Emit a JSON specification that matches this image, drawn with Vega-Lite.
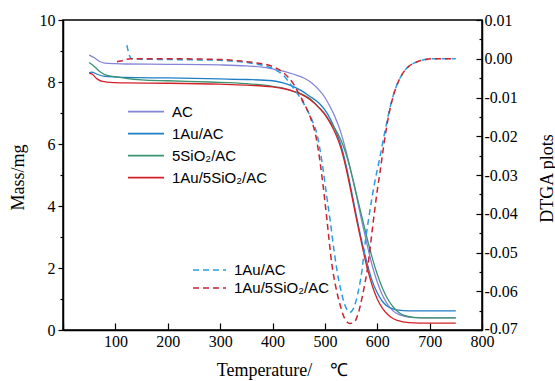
{
  "$schema": "https://vega.github.io/schema/vega-lite/v6.json",
  "width": 419,
  "height": 310,
  "autosize": "none",
  "padding": {"left": 63, "top": 20, "right": 73, "bottom": 51},
  "background": "white",
  "config": {
    "view": {"stroke": "black", "strokeWidth": 1.5},
    "axis": {
      "domainColor": "black",
      "domainWidth": 1.5,
      "tickColor": "black",
      "tickWidth": 1.2,
      "grid": false,
      "labelFont": "Liberation Serif",
      "labelFontSize": 16,
      "labelColor": "black",
      "titleFont": "Liberation Serif",
      "titleFontSize": 18,
      "titleFontWeight": "normal",
      "titleColor": "black"
    },
    "legend": {
      "labelFont": "Liberation Sans",
      "labelFontSize": 15,
      "labelColor": "black",
      "symbolType": "stroke",
      "padding": 0
    }
  },
  "datasets": {
    "tga": [
      {"s": "AC", "T": 50, "m": 8.87}, {"s": "AC", "T": 60, "m": 8.78}, {"s": "AC", "T": 70, "m": 8.66}, {"s": "AC", "T": 80, "m": 8.61},
      {"s": "AC", "T": 100, "m": 8.59}, {"s": "AC", "T": 120, "m": 8.58}, {"s": "AC", "T": 200, "m": 8.57}, {"s": "AC", "T": 300, "m": 8.55},
      {"s": "AC", "T": 350, "m": 8.52}, {"s": "AC", "T": 380, "m": 8.48}, {"s": "AC", "T": 400, "m": 8.42}, {"s": "AC", "T": 420, "m": 8.35},
      {"s": "AC", "T": 440, "m": 8.25}, {"s": "AC", "T": 460, "m": 8.13}, {"s": "AC", "T": 475, "m": 7.97}, {"s": "AC", "T": 490, "m": 7.72},
      {"s": "AC", "T": 500, "m": 7.5}, {"s": "AC", "T": 510, "m": 7.2}, {"s": "AC", "T": 520, "m": 6.85}, {"s": "AC", "T": 530, "m": 6.4},
      {"s": "AC", "T": 540, "m": 5.8}, {"s": "AC", "T": 550, "m": 5.1}, {"s": "AC", "T": 560, "m": 4.35}, {"s": "AC", "T": 570, "m": 3.55},
      {"s": "AC", "T": 580, "m": 2.8}, {"s": "AC", "T": 590, "m": 2.1}, {"s": "AC", "T": 600, "m": 1.55}, {"s": "AC", "T": 610, "m": 1.12},
      {"s": "AC", "T": 620, "m": 0.82}, {"s": "AC", "T": 630, "m": 0.62}, {"s": "AC", "T": 640, "m": 0.51}, {"s": "AC", "T": 650, "m": 0.45},
      {"s": "AC", "T": 670, "m": 0.4}, {"s": "AC", "T": 700, "m": 0.39}, {"s": "AC", "T": 750, "m": 0.39},

      {"s": "1Au/AC", "T": 50, "m": 8.3}, {"s": "1Au/AC", "T": 55, "m": 8.32}, {"s": "1Au/AC", "T": 65, "m": 8.25}, {"s": "1Au/AC", "T": 80, "m": 8.18},
      {"s": "1Au/AC", "T": 100, "m": 8.16}, {"s": "1Au/AC", "T": 120, "m": 8.15}, {"s": "1Au/AC", "T": 200, "m": 8.13}, {"s": "1Au/AC", "T": 300, "m": 8.1},
      {"s": "1Au/AC", "T": 350, "m": 8.08}, {"s": "1Au/AC", "T": 400, "m": 8.04}, {"s": "1Au/AC", "T": 420, "m": 7.97}, {"s": "1Au/AC", "T": 440, "m": 7.85},
      {"s": "1Au/AC", "T": 455, "m": 7.72}, {"s": "1Au/AC", "T": 470, "m": 7.55}, {"s": "1Au/AC", "T": 490, "m": 7.3}, {"s": "1Au/AC", "T": 500, "m": 7.1},
      {"s": "1Au/AC", "T": 510, "m": 6.82}, {"s": "1Au/AC", "T": 520, "m": 6.45}, {"s": "1Au/AC", "T": 530, "m": 6.0}, {"s": "1Au/AC", "T": 540, "m": 5.35},
      {"s": "1Au/AC", "T": 550, "m": 4.55}, {"s": "1Au/AC", "T": 560, "m": 3.7}, {"s": "1Au/AC", "T": 570, "m": 2.9}, {"s": "1Au/AC", "T": 580, "m": 2.2},
      {"s": "1Au/AC", "T": 590, "m": 1.6}, {"s": "1Au/AC", "T": 600, "m": 1.2}, {"s": "1Au/AC", "T": 610, "m": 0.92}, {"s": "1Au/AC", "T": 620, "m": 0.76},
      {"s": "1Au/AC", "T": 630, "m": 0.68}, {"s": "1Au/AC", "T": 640, "m": 0.64}, {"s": "1Au/AC", "T": 660, "m": 0.62}, {"s": "1Au/AC", "T": 750, "m": 0.62},

      {"s": "5SiO₂/AC", "T": 50, "m": 8.63}, {"s": "5SiO₂/AC", "T": 60, "m": 8.5}, {"s": "5SiO₂/AC", "T": 70, "m": 8.34}, {"s": "5SiO₂/AC", "T": 80, "m": 8.24},
      {"s": "5SiO₂/AC", "T": 100, "m": 8.17}, {"s": "5SiO₂/AC", "T": 120, "m": 8.12}, {"s": "5SiO₂/AC", "T": 150, "m": 8.07}, {"s": "5SiO₂/AC", "T": 200, "m": 8.04},
      {"s": "5SiO₂/AC", "T": 280, "m": 8.0}, {"s": "5SiO₂/AC", "T": 350, "m": 7.95}, {"s": "5SiO₂/AC", "T": 400, "m": 7.86}, {"s": "5SiO₂/AC", "T": 420, "m": 7.8},
      {"s": "5SiO₂/AC", "T": 440, "m": 7.7}, {"s": "5SiO₂/AC", "T": 455, "m": 7.62}, {"s": "5SiO₂/AC", "T": 470, "m": 7.48}, {"s": "5SiO₂/AC", "T": 490, "m": 7.15},
      {"s": "5SiO₂/AC", "T": 500, "m": 6.97}, {"s": "5SiO₂/AC", "T": 510, "m": 6.72}, {"s": "5SiO₂/AC", "T": 520, "m": 6.47}, {"s": "5SiO₂/AC", "T": 530, "m": 6.15},
      {"s": "5SiO₂/AC", "T": 540, "m": 5.7}, {"s": "5SiO₂/AC", "T": 550, "m": 5.1}, {"s": "5SiO₂/AC", "T": 560, "m": 4.4}, {"s": "5SiO₂/AC", "T": 570, "m": 3.7},
      {"s": "5SiO₂/AC", "T": 580, "m": 3.0}, {"s": "5SiO₂/AC", "T": 590, "m": 2.35}, {"s": "5SiO₂/AC", "T": 600, "m": 1.8}, {"s": "5SiO₂/AC", "T": 610, "m": 1.35},
      {"s": "5SiO₂/AC", "T": 620, "m": 1.0}, {"s": "5SiO₂/AC", "T": 630, "m": 0.75}, {"s": "5SiO₂/AC", "T": 640, "m": 0.58}, {"s": "5SiO₂/AC", "T": 650, "m": 0.48},
      {"s": "5SiO₂/AC", "T": 670, "m": 0.41}, {"s": "5SiO₂/AC", "T": 700, "m": 0.39}, {"s": "5SiO₂/AC", "T": 750, "m": 0.39},

      {"s": "1Au/5SiO₂/AC", "T": 50, "m": 8.28}, {"s": "1Au/5SiO₂/AC", "T": 55, "m": 8.26}, {"s": "1Au/5SiO₂/AC", "T": 65, "m": 8.1}, {"s": "1Au/5SiO₂/AC", "T": 75, "m": 8.02},
      {"s": "1Au/5SiO₂/AC", "T": 100, "m": 7.98}, {"s": "1Au/5SiO₂/AC", "T": 120, "m": 7.97}, {"s": "1Au/5SiO₂/AC", "T": 200, "m": 7.96}, {"s": "1Au/5SiO₂/AC", "T": 300, "m": 7.93},
      {"s": "1Au/5SiO₂/AC", "T": 350, "m": 7.9}, {"s": "1Au/5SiO₂/AC", "T": 400, "m": 7.84}, {"s": "1Au/5SiO₂/AC", "T": 420, "m": 7.79}, {"s": "1Au/5SiO₂/AC", "T": 440, "m": 7.7},
      {"s": "1Au/5SiO₂/AC", "T": 455, "m": 7.6}, {"s": "1Au/5SiO₂/AC", "T": 470, "m": 7.45}, {"s": "1Au/5SiO₂/AC", "T": 490, "m": 7.15}, {"s": "1Au/5SiO₂/AC", "T": 500, "m": 6.95},
      {"s": "1Au/5SiO₂/AC", "T": 510, "m": 6.68}, {"s": "1Au/5SiO₂/AC", "T": 520, "m": 6.35}, {"s": "1Au/5SiO₂/AC", "T": 530, "m": 5.9}, {"s": "1Au/5SiO₂/AC", "T": 540, "m": 5.25},
      {"s": "1Au/5SiO₂/AC", "T": 550, "m": 4.45}, {"s": "1Au/5SiO₂/AC", "T": 560, "m": 3.6}, {"s": "1Au/5SiO₂/AC", "T": 570, "m": 2.8}, {"s": "1Au/5SiO₂/AC", "T": 580, "m": 2.05},
      {"s": "1Au/5SiO₂/AC", "T": 590, "m": 1.45}, {"s": "1Au/5SiO₂/AC", "T": 600, "m": 1.0}, {"s": "1Au/5SiO₂/AC", "T": 610, "m": 0.7}, {"s": "1Au/5SiO₂/AC", "T": 620, "m": 0.5},
      {"s": "1Au/5SiO₂/AC", "T": 630, "m": 0.37}, {"s": "1Au/5SiO₂/AC", "T": 640, "m": 0.3}, {"s": "1Au/5SiO₂/AC", "T": 660, "m": 0.24}, {"s": "1Au/5SiO₂/AC", "T": 700, "m": 0.22},
      {"s": "1Au/5SiO₂/AC", "T": 750, "m": 0.22}
    ],
    "dtg": [
      {"s": "1Au/AC", "T": 122, "d": 0.0035}, {"s": "1Au/AC", "T": 126, "d": 0.0012}, {"s": "1Au/AC", "T": 131, "d": 0.0}, {"s": "1Au/AC", "T": 150, "d": -0.0001},
      {"s": "1Au/AC", "T": 200, "d": -0.0002}, {"s": "1Au/AC", "T": 260, "d": -0.0003}, {"s": "1Au/AC", "T": 300, "d": -0.0004}, {"s": "1Au/AC", "T": 340, "d": -0.0008},
      {"s": "1Au/AC", "T": 370, "d": -0.0014}, {"s": "1Au/AC", "T": 400, "d": -0.0025}, {"s": "1Au/AC", "T": 420, "d": -0.0042}, {"s": "1Au/AC", "T": 440, "d": -0.0076},
      {"s": "1Au/AC", "T": 455, "d": -0.0105}, {"s": "1Au/AC", "T": 466, "d": -0.0132}, {"s": "1Au/AC", "T": 476, "d": -0.016}, {"s": "1Au/AC", "T": 485, "d": -0.0195},
      {"s": "1Au/AC", "T": 496, "d": -0.028}, {"s": "1Au/AC", "T": 504, "d": -0.036}, {"s": "1Au/AC", "T": 510, "d": -0.0416}, {"s": "1Au/AC", "T": 517, "d": -0.049},
      {"s": "1Au/AC", "T": 523, "d": -0.0545}, {"s": "1Au/AC", "T": 531, "d": -0.06}, {"s": "1Au/AC", "T": 538, "d": -0.0635}, {"s": "1Au/AC", "T": 548, "d": -0.0654},
      {"s": "1Au/AC", "T": 556, "d": -0.064}, {"s": "1Au/AC", "T": 563, "d": -0.0605}, {"s": "1Au/AC", "T": 571, "d": -0.0545}, {"s": "1Au/AC", "T": 577, "d": -0.0475},
      {"s": "1Au/AC", "T": 585, "d": -0.04}, {"s": "1Au/AC", "T": 595, "d": -0.032}, {"s": "1Au/AC", "T": 605, "d": -0.0255}, {"s": "1Au/AC", "T": 615, "d": -0.0185},
      {"s": "1Au/AC", "T": 630, "d": -0.0097}, {"s": "1Au/AC", "T": 649, "d": -0.0037}, {"s": "1Au/AC", "T": 676, "d": -0.0008}, {"s": "1Au/AC", "T": 706, "d": 0.0},
      {"s": "1Au/AC", "T": 750, "d": 0.0},

      {"s": "1Au/5SiO₂/AC", "T": 103, "d": -0.0008}, {"s": "1Au/5SiO₂/AC", "T": 110, "d": -0.0006}, {"s": "1Au/5SiO₂/AC", "T": 120, "d": -0.0002}, {"s": "1Au/5SiO₂/AC", "T": 130, "d": 0.0},
      {"s": "1Au/5SiO₂/AC", "T": 200, "d": 0.0}, {"s": "1Au/5SiO₂/AC", "T": 300, "d": -0.0002}, {"s": "1Au/5SiO₂/AC", "T": 340, "d": -0.0006}, {"s": "1Au/5SiO₂/AC", "T": 370, "d": -0.0011},
      {"s": "1Au/5SiO₂/AC", "T": 400, "d": -0.002}, {"s": "1Au/5SiO₂/AC", "T": 420, "d": -0.0035}, {"s": "1Au/5SiO₂/AC", "T": 440, "d": -0.0065}, {"s": "1Au/5SiO₂/AC", "T": 452, "d": -0.0094},
      {"s": "1Au/5SiO₂/AC", "T": 462, "d": -0.012}, {"s": "1Au/5SiO₂/AC", "T": 472, "d": -0.015}, {"s": "1Au/5SiO₂/AC", "T": 485, "d": -0.0215}, {"s": "1Au/5SiO₂/AC", "T": 495, "d": -0.031},
      {"s": "1Au/5SiO₂/AC", "T": 504, "d": -0.0416}, {"s": "1Au/5SiO₂/AC", "T": 513, "d": -0.0527}, {"s": "1Au/5SiO₂/AC", "T": 521, "d": -0.059}, {"s": "1Au/5SiO₂/AC", "T": 529, "d": -0.0635},
      {"s": "1Au/5SiO₂/AC", "T": 537, "d": -0.0668}, {"s": "1Au/5SiO₂/AC", "T": 548, "d": -0.0683}, {"s": "1Au/5SiO₂/AC", "T": 556, "d": -0.068}, {"s": "1Au/5SiO₂/AC", "T": 563, "d": -0.066},
      {"s": "1Au/5SiO₂/AC", "T": 572, "d": -0.061}, {"s": "1Au/5SiO₂/AC", "T": 582, "d": -0.0535}, {"s": "1Au/5SiO₂/AC", "T": 592, "d": -0.0425}, {"s": "1Au/5SiO₂/AC", "T": 600, "d": -0.034},
      {"s": "1Au/5SiO₂/AC", "T": 605, "d": -0.0295}, {"s": "1Au/5SiO₂/AC", "T": 615, "d": -0.02}, {"s": "1Au/5SiO₂/AC", "T": 622, "d": -0.0145}, {"s": "1Au/5SiO₂/AC", "T": 630, "d": -0.0099},
      {"s": "1Au/5SiO₂/AC", "T": 640, "d": -0.006}, {"s": "1Au/5SiO₂/AC", "T": 649, "d": -0.0037}, {"s": "1Au/5SiO₂/AC", "T": 660, "d": -0.002}, {"s": "1Au/5SiO₂/AC", "T": 676, "d": -0.0008},
      {"s": "1Au/5SiO₂/AC", "T": 690, "d": -0.0003}, {"s": "1Au/5SiO₂/AC", "T": 706, "d": 0.0}, {"s": "1Au/5SiO₂/AC", "T": 745, "d": 0.0}
    ]
  },
  "layer": [
    {
      "data": {"name": "tga"},
      "mark": {"type": "line", "strokeWidth": 1.3, "interpolate": "monotone"},
      "encoding": {
        "x": {
          "field": "T",
          "type": "quantitative",
          "scale": {"domain": [0, 800], "nice": false, "zero": false},
          "axis": {
            "title": "Temperature/\u00a0\u00a0\u00a0\u00a0℃",
            "values": [0, 50, 100, 150, 200, 250, 300, 350, 400, 450, 500, 550, 600, 650, 700, 750, 800],
            "labelExpr": "datum.value % 100 === 0 && datum.value > 0 ? datum.label : ''",
            "tickSize": {"condition": {"test": "datum.value % 100 === 0", "value": -7}, "value": -4},
            "labelPadding": 10,
            "labelFlush": false,
            "titleX": 219,
            "titleY": 45,
            "titleBaseline": "alphabetic"
          }
        },
        "y": {
          "field": "m",
          "type": "quantitative",
          "scale": {"domain": [0, 10], "nice": false, "zero": false},
          "axis": {
            "orient": "left",
            "title": "Mass/mg",
            "values": [0, 1, 2, 3, 4, 5, 6, 7, 8, 9, 10],
            "labelExpr": "datum.value % 2 === 0 ? datum.label : ''",
            "tickSize": {"condition": {"test": "datum.value % 2 === 0", "value": 5}, "value": 3},
            "labelPadding": 3,
            "labelFlush": false,
            "titleAngle": -90,
            "titleX": -45,
            "titleY": 157,
            "titleAlign": "center",
            "titleBaseline": "middle"
          }
        },
        "color": {
          "field": "s",
          "type": "nominal",
          "scale": {
            "domain": ["AC", "1Au/AC", "5SiO₂/AC", "1Au/5SiO₂/AC"],
            "range": ["#8585d8", "#1f7fc4", "#3a9470", "#d42129"]
          },
          "legend": {
            "title": null,
            "orient": "none",
            "legendX": 64,
            "legendY": 81,
            "symbolSize": 1296,
            "symbolStrokeWidth": 1.6,
            "labelOffset": 7,
            "clipHeight": 21.2,
            "rowPadding": 0
          }
        }
      }
    },
    {
      "data": {"name": "dtg"},
      "mark": {"type": "line", "strokeWidth": 1.5, "strokeDash": [6, 4], "interpolate": "monotone"},
      "encoding": {
        "x": {"field": "T", "type": "quantitative"},
        "y": {
          "field": "d",
          "type": "quantitative",
          "scale": {"domain": [-0.07, 0.01], "nice": false, "zero": false},
          "axis": {
            "orient": "right",
            "title": "DTGA plots",
            "values": [-0.07, -0.065, -0.06, -0.055, -0.05, -0.045, -0.04, -0.035, -0.03, -0.025, -0.02, -0.015, -0.01, -0.005, 0, 0.005, 0.01],
            "labelExpr": "round(datum.value * 200) % 2 === 0 ? replace(format(datum.value, '.2f'), '\u2212', '-') : ''",
            "tickSize": {"condition": {"test": "round(datum.value * 200) % 2 === 0", "value": -6}, "value": -3},
            "labelOffset": {"condition": {"test": "datum.value < -0.069", "value": -2}, "value": 0},
            "labelPadding": 8,
            "labelFlush": false,
            "titleAngle": -90,
            "titleX": 65,
            "titleY": 158,
            "titleAlign": "center",
            "titleBaseline": "middle"
          }
        },
        "color": {
          "field": "s",
          "type": "nominal",
          "scale": {
            "domain": ["1Au/AC", "1Au/5SiO₂/AC"],
            "range": ["#2a9ede", "#cc2231"]
          },
          "legend": {
            "title": null,
            "orient": "none",
            "legendX": 129,
            "legendY": 241,
            "symbolSize": 1089,
            "symbolStrokeWidth": 1.5,
            "symbolDash": [6, 4],
            "labelOffset": 7,
            "clipHeight": 18,
            "rowPadding": 0
          }
        }
      }
    }
  ],
  "resolve": {"scale": {"y": "independent", "color": "independent"}}
}
